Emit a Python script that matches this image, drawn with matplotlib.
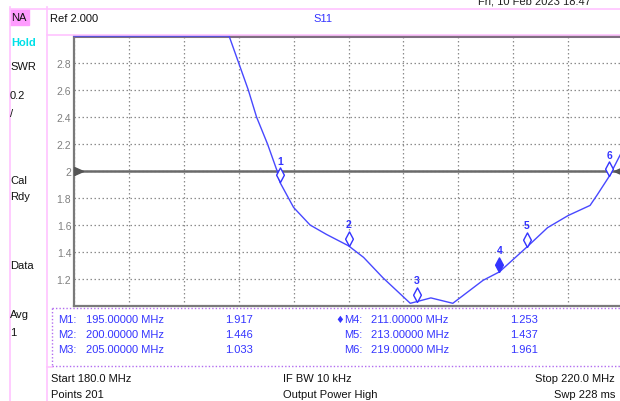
import numpy as np
import matplotlib
matplotlib.use("Agg")
import matplotlib.pyplot as plt
from matplotlib.path import Path
from matplotlib.lines import Line2D

plt.rcParams['font.family'] = ['Liberation Sans', 'DejaVu Sans']

# S11 SWR trace (values above 3.0 are shown clipped at the top)
freq_mhz = [180.0, 191.3, 192.0, 192.7, 193.3, 194.1, 194.8, 195.0, 196.0, 197.2,
            198.4, 200.0, 201.1, 202.5, 203.5, 204.5, 205.0, 206.0, 207.6, 209.8,
            211.0, 213.0, 214.5, 216.0, 217.6, 218.1, 219.0, 220.0]
swr = [3.0, 3.0, 2.80, 2.60, 2.40, 2.20, 2.00, 1.917, 1.73, 1.60,
       1.53, 1.446, 1.36, 1.21, 1.115, 1.02, 1.033, 1.06, 1.02, 1.19,
       1.253, 1.437, 1.58, 1.67, 1.745, 1.82, 1.961, 2.16]

marker_ids = [1, 2, 3, 4, 5, 6]
marker_freq = [195.0, 200.0, 205.0, 211.0, 213.0, 219.0]
marker_swr = [1.917, 1.446, 1.033, 1.253, 1.437, 1.961]
active_marker = 4

ref_level = 2.0
y_ticks = [1.2, 1.4, 1.6, 1.8, 2.0, 2.2, 2.4, 2.6, 2.8]
y_labels = ['1.2', '1.4', '1.6', '1.8', '2', '2.2', '2.4', '2.6', '2.8']
side_labels = [('SWR', 67), ('0.2', 96), ('/', 114), ('Cal', 181), ('Rdy', 197),
               ('Data', 266), ('Avg', 315), ('1', 333)]

W, H = 620, 402
BLUE = '#3434ff'
PINK = '#ffc4ff'
GRAY = '#7a7a7a'

fig = plt.figure(figsize=(W / 100, H / 100), dpi=100)
fig.patch.set_facecolor('white')


def T(x, y, s, **kw):
    kw.setdefault('va', 'center')
    kw.setdefault('fontsize', 8)
    return fig.text(x / W, 1 - y / H, s, **kw)


def hline(y, x0, x1, **kw):
    fig.add_artist(Line2D([x0 / W, x1 / W], [1 - y / H, 1 - y / H], **kw))


def vline(x, y0, y1, **kw):
    fig.add_artist(Line2D([x / W, x / W], [1 - y0 / H, 1 - y1 / H], **kw))


# plot area (right edge runs just past the screenshot)
ax = fig.add_axes([74 / W, 1 - 307 / H, (623 - 74) / W, (307 - 37) / H])
ax.set_xlim(180, 220)
ax.set_ylim(1.0, 3.0)
ax.set_xticks(np.arange(180, 221, 4))
ax.set_yticks(y_ticks)
ax.set_yticklabels(y_labels)
ax.tick_params(axis='x', length=0, labelbottom=False)
ax.tick_params(axis='y', length=0, labelsize=7.5, labelcolor='#808080', pad=2)
ax.grid(True, color='#8c8c8c', linestyle=(0, (1.2, 2)), linewidth=0.9)
for side in ['left', 'bottom', 'right']:
    ax.spines[side].set_color(GRAY)
    ax.spines[side].set_linewidth(1.6)
ax.spines['top'].set_color('#7f6f80')
ax.spines['top'].set_linewidth(2.2)

# reference line with end triangles
ax.axhline(ref_level, color='#6a6a6a', linewidth=1.8, zorder=2)
tri_right = Path([(0, -4), (9, 0), (0, 4), (0, -4)])
tri_left = Path([(0, -4), (-9, 0), (0, 4), (0, -4)])
ax.plot([180], [ref_level], marker=tri_right, markersize=13, color='#555555',
        clip_on=False, zorder=3)
ax.plot([220], [ref_level], marker=tri_left, markersize=13, color='#555555',
        clip_on=False, zorder=3)

# trace
ax.plot(freq_mhz, np.minimum(swr, 3.0), color='#4848ff', linewidth=1.0,
        clip_on=False, zorder=4)

# markers: diamond sitting on the trace point, number above
diamond = Path([(0, 0), (4, 7.5), (0, 15), (-4, 7.5), (0, 0)])
for mid, f, v in zip(marker_ids, marker_freq, marker_swr):
    face = BLUE if mid == active_marker else 'white'
    ax.plot([f], [v], marker=diamond, markersize=21, markerfacecolor=face,
            markeredgecolor=BLUE, markeredgewidth=1.0, linestyle='none', zorder=5)
    ax.annotate(str(mid), (f, v), xytext=(0, 15.5), textcoords='offset points',
                ha='center', va='center', fontsize=7.5, fontweight='bold',
                color=BLUE, zorder=6)

# frame lines of the instrument screen
vline(9.5, 8, 402, color=PINK, linewidth=1.2)
vline(46.5, 8, 402, color=PINK, linewidth=1.2)
hline(9.5, 9.5, 620, color=PINK, linewidth=1.2)
hline(35.5, 46.5, 620, color=PINK, linewidth=1.2)
hline(368, 46.5, 52, color=PINK, linewidth=1.2)

# top-right date (cut off by the screen edge)
T(478, 1, 'Fri, 10 Feb 2023 18:47', color='#222222')

# header
T(50, 19, 'Ref 2.000', color='#111111')
T(313, 19, 'S11', color=BLUE)

# left status panel
fig.patches.append(plt.Rectangle((10 / W, 1 - 26 / H), 19 / W, 16 / H,
                                 transform=fig.transFigure, color='#ff9cff',
                                 zorder=0))
T(11, 18, 'NA', color='#111111')
T(11, 43, 'Hold', color='#00e0e8', fontweight='bold')
for s, y in side_labels:
    T(10, y, s, color='#111111')

# marker table box
box_kw = dict(color='#b26cf0', linewidth=1.0, linestyle=(0, (1, 1.5)))
hline(309, 52, 620, **box_kw)
hline(367, 52, 620, **box_kw)
vline(52, 309, 367, **box_kw)

rows_y = [320, 335, 350]
for i, (mid, f, v) in enumerate(zip(marker_ids, marker_freq, marker_swr)):
    y = rows_y[i % 3]
    if i < 3:
        xl, xf, xv = 58, 86, 225
    else:
        xl, xf, xv = 344, 371, 510
    if mid == active_marker:
        T(xl, y, '\u2666', color=BLUE, ha='right', fontsize=7,
          family='DejaVu Sans')
    T(xl, y, f'M{mid}:', color=BLUE)
    T(xf, y, f'{f:.5f} MHz', color=BLUE)
    T(xv, y, f'{v:.3f}', color=BLUE)

# footer
T(51, 379, 'Start 180.0 MHz', color='#111111')
T(51, 395, 'Points 201', color='#111111')
T(283, 379, 'IF BW 10 kHz', color='#111111')
T(283, 395, 'Output Power High', color='#111111')
T(615, 379, 'Stop 220.0 MHz', color='#111111', ha='right')
T(615, 395, 'Swp 228 ms', color='#111111', ha='right')

fig.savefig('out.png', dpi=100)
